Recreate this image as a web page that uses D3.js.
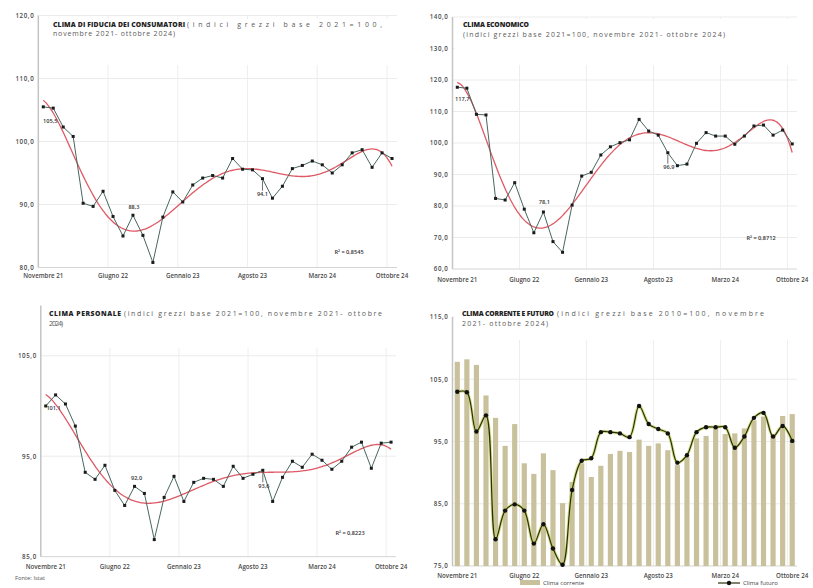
<!DOCTYPE html>
<html><head><meta charset="utf-8">
<script src="https://cdn.jsdelivr.net/npm/d3@7"></script>
<style>
html,body{margin:0;padding:0;background:#fff;}
svg{display:block;font-family:"Open Sans","Noto Sans",sans-serif;}
</style></head>
<body>
<script>
// ---------------- DATA ----------------
const categorie = ["Novembre 21","Dicembre 21","Gennaio 22","Febbraio 22","Marzo 22","Aprile 22","Maggio 22","Giugno 22","Luglio 22","Agosto 22","Settembre 22","Ottobre 22","Novembre 22","Dicembre 22","Gennaio 23","Febbraio 23","Marzo 23","Aprile 23","Maggio 23","Giugno 23","Luglio 23","Agosto 23","Settembre 23","Ottobre 23","Novembre 23","Dicembre 23","Gennaio 24","Febbraio 24","Marzo 24","Aprile 24","Maggio 24","Giugno 24","Luglio 24","Agosto 24","Settembre 24","Ottobre 24"];
const tickLabels = ["Novembre 21","Giugno 22","Gennaio 23","Agosto 23","Marzo 24","Ottobre 24"];

const consumatori = [105.5,105.3,102.3,100.8,90.2,89.7,92.1,88.1,85.0,88.3,85.1,80.8,88.0,92.0,90.4,93.1,94.2,94.6,94.2,97.3,95.6,95.5,94.1,91.0,92.9,95.7,96.2,96.9,96.3,95.0,96.3,98.2,98.7,95.9,98.2,97.3];
const economico = [117.7,117.4,109.1,108.9,82.4,81.9,87.4,79.0,71.5,78.1,68.7,65.3,80.3,89.5,90.7,96.2,98.8,100.1,101.0,107.5,103.8,102.5,96.9,92.8,93.3,99.9,103.3,102.2,102.2,99.6,102.2,105.4,105.7,102.5,104.1,99.7];
const personale = [100.0,101.1,100.2,98.0,93.4,92.7,94.1,91.6,90.1,92.0,91.3,86.7,90.9,93.0,90.5,92.4,92.8,92.7,92.0,94.0,92.8,93.2,93.6,90.5,92.9,94.5,93.9,95.2,94.6,93.7,94.5,95.9,96.4,93.8,96.3,96.4];
const corrente = [107.8,108.2,107.3,102.4,98.8,94.3,97.8,91.5,89.8,93.1,90.4,85.1,88.5,91.5,89.3,91.1,93.0,93.5,93.3,95.3,94.3,94.7,93.6,91.2,92.5,95.5,95.9,97.1,96.2,96.3,97.1,98.4,99.0,96.0,99.1,99.4];
const futuro = [103.0,102.9,96.6,99.2,79.3,83.9,84.9,83.9,78.6,81.7,77.8,75.2,87.2,91.9,92.3,96.5,96.5,96.3,95.7,100.7,97.8,97.0,96.3,91.6,92.8,96.5,97.3,97.3,97.3,94.0,95.8,98.8,99.6,95.8,97.5,95.1];

const ticksConsumatori = [80,90,100,110,120];
const ticksEconomico = [60,70,80,90,100,110,120,130,140];
const ticksPersonale = [85,95,105];
const ticksCorrFut = [75,85,95,105,115];

const r2Consumatori = "R² = 0,8545";
const r2Economico = "R² = 0,8712";
const r2Personale = "R² = 0,8223";
const legendaSerie = ["Clima corrente","Clima futuro"];
const fonte = "Fonte: Istat";

// ---------------- HELPERS ----------------
const fmt = v => d3.format(".1f")(v).replace(".", ",");

function polyfit(ys, order){
  const n = ys.length, m = order+1;
  const xs = ys.map((_,i)=> 2*i/(n-1)-1);
  const A = Array.from({length:m},()=>new Array(m).fill(0));
  const b = new Array(m).fill(0);
  for(let k=0;k<n;k++){
    for(let r=0;r<m;r++){
      b[r]+=Math.pow(xs[k],r)*ys[k];
      for(let c=0;c<m;c++) A[r][c]+=Math.pow(xs[k],r+c);
    }
  }
  for(let i=0;i<m;i++){
    let p=i; for(let r=i+1;r<m;r++) if(Math.abs(A[r][i])>Math.abs(A[p][i])) p=r;
    [A[i],A[p]]=[A[p],A[i]]; [b[i],b[p]]=[b[p],b[i]];
    for(let r=i+1;r<m;r++){ const f=A[r][i]/A[i][i]; for(let c=i;c<m;c++) A[r][c]-=f*A[i][c]; b[r]-=f*b[i]; }
  }
  const co=new Array(m).fill(0);
  for(let i=m-1;i>=0;i--){ let s=b[i]; for(let c=i+1;c<m;c++) s-=A[i][c]*co[c]; co[i]=s/A[i][i]; }
  return t => { const x=2*t/(n-1)-1; let s=0; for(let i=m-1;i>=0;i--) s=s*x+co[i]; return s; };
}

const svg = d3.select("body").append("svg").attr("width",813).attr("height",588);
svg.append("rect").attr("width",813).attr("height",588).attr("fill","#fff");

function panel(cfg){
  const g = svg.append("g");
  const x = d3.scaleBand().domain(categorie).range([cfg.x0, cfg.x1]).padding(0);
  const bw = x.bandwidth();
  const cx = c => x(c) + bw/2;
  const y = d3.scaleLinear().domain(cfg.yDomain).range(cfg.yRange);
  const xl = d3.scaleLinear().domain([0, categorie.length-1]).range([cx(categorie[0]), cx(categorie[categorie.length-1])]);

  g.selectAll(".hg").data(cfg.ticks.filter(t=>t!==cfg.yDomain[0])).join("line")
    .attr("x1",cfg.x0).attr("x2",cfg.x1).attr("y1",d=>y(d)).attr("y2",d=>y(d))
    .attr("stroke","#e9e9e9").attr("stroke-width",0.9);
  g.selectAll(".vg").data(categorie.filter((c,i)=>i>0 && i%7===0)).join("line")
    .attr("x1",d=>x(d)).attr("x2",d=>x(d)).attr("y1",y(cfg.yDomain[0])).attr("y2",y(cfg.yDomain[1]))
    .attr("stroke","#ececec").attr("stroke-width",0.9);

  g.append("rect").attr("x",cfg.x0+2).attr("y",cfg.box[0]).attr("width",cfg.x1-cfg.x0+2).attr("height",cfg.box[1]-cfg.box[0]).attr("fill","#fff");
  cfg.title.forEach(t=>{
    g.append("text").attr("x",t[0]).attr("y",t[1]).attr("dominant-baseline","middle")
      .attr("font-size",t[4]?6.8:7).attr("font-weight",t[4]?800:400).attr("fill",t[4]?"#222":"#5a5a5a")
      .attr("textLength",t[3]).attr("lengthAdjust","spacing").text(t[2]);
  });

  g.append("line").attr("x1",cfg.x0).attr("x2",cfg.x1).attr("y1",y(cfg.yDomain[0])).attr("y2",y(cfg.yDomain[0])).attr("stroke","#d4d4d4").attr("stroke-width",1);
  g.append("line").attr("x1",cfg.x0).attr("x2",cfg.x0).attr("y1",y(cfg.yDomain[0])).attr("y2",y(cfg.yDomain[1])).attr("stroke","#c4c4c4").attr("stroke-width",1.5);

  const ya = g.append("g").attr("transform",`translate(${cfg.x0},0)`)
    .call(d3.axisLeft(y).tickValues(cfg.ticks).tickFormat(fmt).tickSize(0).tickPadding(4));
  ya.select(".domain").remove();
  ya.selectAll("text").attr("font-size",6.2).attr("font-weight",600).attr("letter-spacing",0.6).attr("fill","#4a4a4a").attr("font-family","Open Sans, sans-serif");

  const xa = g.append("g").attr("transform",`translate(0,${y(cfg.yDomain[0])})`)
    .call(d3.axisBottom(x).tickValues(tickLabels).tickSize(0).tickPadding(cfg.xPad));
  xa.select(".domain").remove();
  xa.selectAll("text").attr("font-size",6.2).attr("font-weight",600).attr("fill","#4a4a4a").attr("font-family","Open Sans, sans-serif");

  if(cfg.bars){
    g.selectAll(".bar").data(cfg.bars).join("rect")
      .attr("x",(d,i)=>cx(categorie[i]) - bw*0.27).attr("width",bw*0.54)
      .attr("y",d=>y(d)).attr("height",d=>y(cfg.yDomain[0])-y(d))
      .attr("fill","#c9c19b");
  }

  if(cfg.trend){
    const f = polyfit(cfg.values, 6);
    const ts = d3.range(0, categorie.length-1+0.001, 0.2);
    g.append("path").attr("d", d3.line().x(t=>xl(t)).y(t=>y(f(t))).curve(d3.curveBasis)(ts))
      .attr("fill","none").attr("stroke","#de5b66").attr("stroke-width",1.3);
  }

  const line = d3.line().x((d,i)=>cx(categorie[i])).y(d=>y(d));
  if(cfg.smooth){
    line.curve(d3.curveCatmullRom.alpha(0.5));
    g.append("path").attr("d",line(cfg.values)).attr("fill","none").attr("stroke","#c6d05e").attr("stroke-width",3).attr("opacity",0.75);
    g.append("path").attr("d",line(cfg.values)).attr("fill","none").attr("stroke","#27300c").attr("stroke-width",1.2);
    g.selectAll(".pt").data(cfg.values).join("circle")
      .attr("cx",(d,i)=>cx(categorie[i])).attr("cy",d=>y(d)).attr("r",2.2).attr("fill","#111");
  } else {
    g.append("path").attr("d",line(cfg.values)).attr("fill","none").attr("stroke","#48675e").attr("stroke-width",1);
    g.selectAll(".pt").data(cfg.values).join("rect")
      .attr("x",(d,i)=>cx(categorie[i])-1.5).attr("y",d=>y(d)-1.5).attr("width",3).attr("height",3).attr("fill","#1b1b1b");
  }

  (cfg.labels||[]).forEach(l=>{
    const px = cx(categorie[l.i]), py = y(cfg.values[l.i]);
    if(l.leader){
      g.append("line").attr("x1",px).attr("x2",px).attr("y1",py+2).attr("y2",py+l.dy-4).attr("stroke","#333").attr("stroke-width",0.7);
    }
    g.append("text").attr("x",px+l.dx).attr("y",py+l.dy).attr("text-anchor","middle").attr("dominant-baseline","middle")
      .attr("font-size",5.6).attr("font-weight",600).attr("fill","#333").text(fmt(cfg.values[l.i]));
  });

  if(cfg.r2){
    g.append("text").attr("x",cfg.r2[0]).attr("y",cfg.r2[1]).attr("text-anchor","middle").attr("dominant-baseline","middle")
      .attr("font-size",5.6).attr("font-weight",600).attr("fill","#333").text(cfg.r2[2]);
  }
  return {x,y,cx};
}

panel({
  x0:38.3, x1:397, yDomain:[80,120], yRange:[267.5,15.5], ticks:ticksConsumatori, xPad:6,
  box:[19,65], values:consumatori, trend:true,
  title:[[53,25,"CLIMA DI FIDUCIA DEI CONSUMATORI",132,true],[187,25,"(indici grezzi base 2021=100,",195,false],[53,34,"novembre 2021- ottobre 2024)",122,false]],
  labels:[{i:0,dx:7,dy:15},{i:9,dx:1,dy:-8},{i:22,dx:0,dy:16,leader:true}],
  r2:[349,252,r2Consumatori]
});
panel({
  x0:452.5, x1:797, yDomain:[60,140], yRange:[269,17], ticks:ticksEconomico, xPad:9,
  box:[19,65], values:economico, trend:true,
  title:[[463,25,"CLIMA ECONOMICO",66,true],[463,35,"(indici grezzi base 2021=100,  novembre 2021- ottobre 2024)",262,false]],
  labels:[{i:0,dx:5,dy:12},{i:9,dx:1,dy:-9},{i:22,dx:1,dy:15,leader:true}],
  r2:[761,238,r2Economico]
});
panel({
  x0:40.8, x1:396, yDomain:[85,110], yRange:[556.7,305.5], ticks:ticksPersonale, xPad:8,
  box:[302,348], values:personale, trend:true,
  title:[[49,314,"CLIMA PERSONALE",72,true],[124,314,"(indici grezzi base 2021=100,  novembre 2021- ottobre",258,false],[49,324,"2024)",14,false]],
  labels:[{i:1,dx:-2,dy:14},{i:9,dx:2,dy:-8},{i:22,dx:1,dy:16,leader:true}],
  r2:[350,533,r2Personale]
});
panel({
  x0:452.5, x1:797, yDomain:[75,115], yRange:[566,317], ticks:ticksCorrFut, xPad:8,
  box:[306,340], values:futuro, bars:corrente, smooth:true,
  title:[[462,314,"CLIMA CORRENTE E FUTURO",92,true],[557,314,"(indici grezzi base 2010=100,  novembre",207,false],[462,324,"2021- ottobre 2024)",86,false]]
});

const lg = svg.append("g");
lg.append("rect").attr("x",520).attr("y",580).attr("width",20).attr("height",5).attr("fill","#c9c19b");
lg.append("text").attr("x",543).attr("y",583).attr("dominant-baseline","middle").attr("font-size",6).attr("fill","#444").text(legendaSerie[0]);
lg.append("line").attr("x1",718).attr("x2",740).attr("y1",583).attr("y2",583).attr("stroke","#27300c").attr("stroke-width",1.2);
lg.append("circle").attr("cx",729).attr("cy",583).attr("r",2.2).attr("fill","#111");
lg.append("text").attr("x",743).attr("y",583).attr("dominant-baseline","middle").attr("font-size",6).attr("fill","#444").text(legendaSerie[1]);

svg.append("text").attr("x",15).attr("y",578).attr("dominant-baseline","middle").attr("font-size",5.8).attr("fill","#555").text(fonte);
</script>
</body></html>
